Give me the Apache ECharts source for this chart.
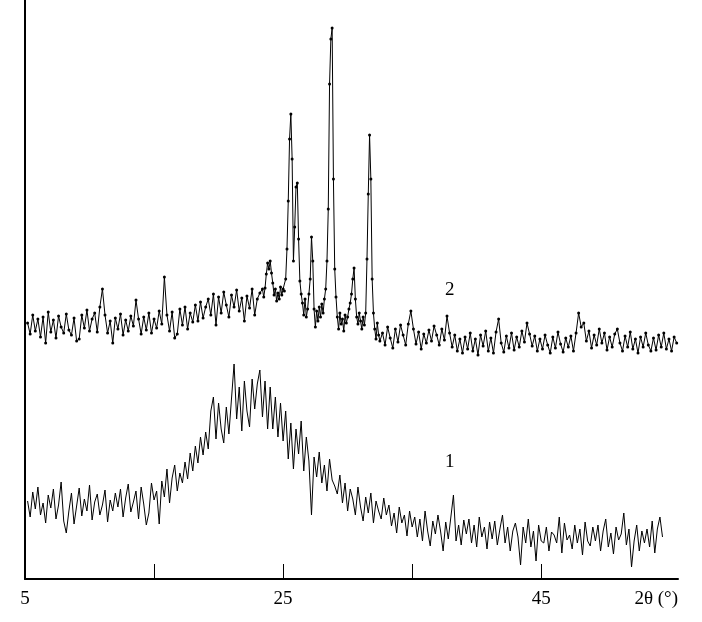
<!DOCTYPE html>
<html><head><meta charset="utf-8">
<script src="https://cdn.jsdelivr.net/npm/echarts@6/dist/echarts.min.js"></script>
<style>html,body{margin:0;padding:0;background:#fff}#c{width:702px;height:622px}</style>
</head><body><div id="c"></div>
<script>
// 2-theta scan grid (start, step) and intensities (arbitrary units)
const scan1Start = 5.2, scan1Step = 0.2;
const intensity1 = [
  78,62,87,70,92,64,76,56,84,71,90,60,74,97,58,46,68,86,55,73,91,63,80,68,94,59,77,85,64,74,89,57,79,68,86,
  72,90,62,81,95,67,77,88,60,92,75,54,66,96,79,
  88,55,98,82,110,76,101,114,88,106,
  96,117,100,126,108,133,116,142,124,147,
  130,168,182,140,176,150,136,172,145,180,
  215,160,192,148,198,168,152,200,170,195,
  209,162,198,150,192,150,182,142,176,138,
  168,120,156,110,150,125,158,108,142,118,
  64,122,102,127,96,114,88,120,99,93,
  85,104,76,96,68,90,80,64,92,72,
  58,82,66,86,56,78,68,60,81,64,
  74,53,66,46,72,56,64,43,68,52,
  62,42,60,38,68,48,33,58,45,64,
  48,28,57,40,62,84,38,54,34,59,
  45,60,36,54,32,62,42,52,30,57,
  40,58,34,50,64,36,52,28,48,56,
  42,14,52,36,60,32,48,18,54,38,
  36,52,28,47,44,36,62,26,56,39,
  44,30,54,36,50,24,57,38,33,52,
  38,54,28,48,60,32,46,25,52,39,
  45,66,34,50,12,38,54,28,48,36,
  50,32,58,26,50,62,42
];

const scan2aStart = 5.2, scan2aStep = 0.2;
const intensity2a = [
  256,245,264,248,260, 242,262,236,267,247, 259,241,263,252,246, 265,249,244,261,238,
  240,264,251,269,248, 260,266,247,272,290, 264,246,258,236,261, 250,265,244,259,248,
  263,253,279,260,245, 262,249,266,246,260, 251,268,255,302,264, 248,267,241,245,270,
  254,272,250,266,257, 274,258,277,261,272, 280,264,285,254,282, 266,287,274,262,284,
  272,289,268,281,258, 283,271,290,264,280, 286,290
];
const scan2bStart = 23.5, scan2bStep = 0.1;
const intensity2b = [
  282,291,305,316,310,318,306,296,284,290,
  278,286,280,292,284,290,288,300,330,378,
  440,465,420,318,352,392,396,340,298,285,
  276,264,280,262,270,285,300,342,318,270,
  252,268,258,272,262,275,266,280,290,318,
  370,495,540,551,400,310,282,262,250,266,
  255,260,248,264,256,262,270,276,285,300,
  311,280,262,255,266,258,250,262,254,266,
  320,385,444,400,300,266,250,240,256,244,
  238
];
const scan2cStart = 32.7, scan2cStep = 0.2;
const intensity2c = [
  246,234,252,241,231,250,237,254,244,234,
  255,268,250,235,247,230,245,236,249,238,
  253,244,234,250,239,263,246,232,244,228,
  240,226,242,230,246,228,240,224,244,233,
  248,228,241,226,247,260,236,227,243,231,
  246,229,242,232,248,237,256,245,233,243,
  228,240,230,244,234,226,242,231,247,235,
  227,241,232,243,228,246,266,252,256,238,
  248,231,244,234,250,236,246,229,242,232,
  245,250,236,228,243,232,247,230,240,226,
  242,232,246,234,228,241,229,244,232,246,
  230,240,228,242,236
];

const tickValues = [5, 15, 25, 35, 45];
const labelValues = [5, 25, 45];
const axisTitle = '2\u03b8 (\u00b0)';
const curveNames = ['1', '2'];

function pairs(start, step, vals) {
  return vals.map((v, i) => [+(start + i * step).toFixed(2), v]);
}
const data1 = pairs(scan1Start, scan1Step, intensity1);
const data2 = pairs(scan2aStart, scan2aStep, intensity2a)
  .concat(pairs(scan2bStart, scan2bStep, intensity2b))
  .concat(pairs(scan2cStart, scan2cStep, intensity2c));

const serif = 'Liberation Serif, Times New Roman, serif';
const chart = echarts.init(document.getElementById('c'), null, {renderer: 'canvas'});
chart.setOption({
  animation: false,
  backgroundColor: '#fff',
  grid: {left: 25, right: 24, top: 0, bottom: 43, containLabel: false},
  xAxis: {
    type: 'value', min: 5, max: 55.6,
    axisLine: {show: true, lineStyle: {color: '#000', width: 2}},
    axisTick: {show: true, inside: true, length: 15, customValues: tickValues, lineStyle: {color: '#000', width: 1}},
    axisLabel: {show: true, customValues: labelValues, color: '#000', fontFamily: serif, fontSize: 19, margin: 11},
    splitLine: {show: false},
    name: axisTitle, nameLocation: 'end', nameGap: 0,
    nameTextStyle: {color: '#000', fontFamily: serif, fontSize: 19, align: 'right', verticalAlign: 'top', padding: [11, 0, 0, 0]}
  },
  yAxis: {
    type: 'value', min: 0, max: 579,
    axisLine: {show: true, lineStyle: {color: '#000', width: 2}},
    axisTick: {show: false}, axisLabel: {show: false}, splitLine: {show: false}
  },
  series: [
    {name: curveNames[0], type: 'line', data: data1, symbol: 'none',
     lineStyle: {color: '#000', width: 1}},
    {name: curveNames[1], type: 'line', data: data2, symbol: 'circle', symbolSize: 3, showAllSymbol: true,
     itemStyle: {color: '#000'},
     lineStyle: {color: '#000', width: 1}}
  ],
  graphic: [
    {type: 'text', left: 445, top: 281, style: {text: curveNames[1], fill: '#000', font: '19px ' + serif}},
    {type: 'text', left: 445, top: 453, style: {text: curveNames[0], fill: '#000', font: '19px ' + serif}}
  ]
});
</script></body></html>
